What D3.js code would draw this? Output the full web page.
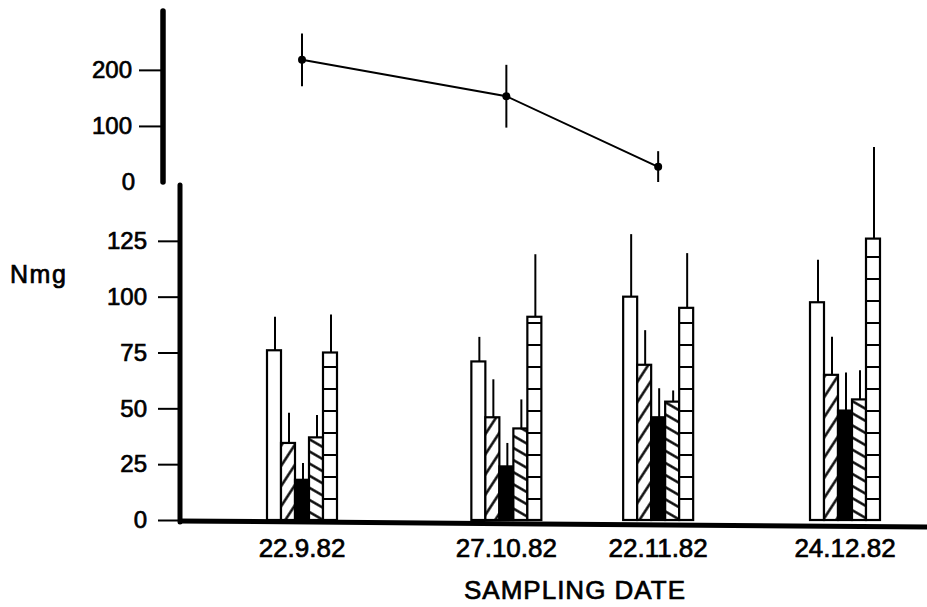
<!DOCTYPE html>
<html><head><meta charset="utf-8">
<script src="https://cdn.jsdelivr.net/npm/d3@7"></script>
<style>
body{margin:0;background:#fff}
svg{display:block}
text{font-family:"Liberation Sans",Arial,Helvetica,sans-serif;fill:#000}
</style>
</head><body>
<svg id="c" width="927" height="607"></svg>
<script>
// ---- data ----
const dateLabels = ["22.9.82","27.10.82","22.11.82","24.12.82"];
const dateValues = ["1982-09-22","1982-10-27","1982-11-22","1982-12-24"];
const seriesNames = ["open","hatchUp","solid","hatchDown","brick"];
const openMean = [76, 71, 100, 97.5];
const openSD = [15, 11, 28, 19];
const hatchUpMean = [34.5, 46, 69.5, 65];
const hatchUpSD = [13.5, 17, 15.5, 17];
const solidMean = [18, 24, 46, 49];
const solidSD = [7.5, 10.5, 13, 17];
const hatchDownMean = [37, 41, 53, 54];
const hatchDownSD = [10, 13, 5, 13];
const brickMean = [75, 91, 95, 126];
const brickSD = [17, 28, 24.5, 41];
const lineMean = [218, 153, 27];
const lineSD = [47, 56, 28];
const lowerTicks = [0, 25, 50, 75, 100, 125];
const upperTicks = [0, 100, 200];

const parse = d3.timeParse("%Y-%m-%d");
const dates = dateValues.map(parse);
const means = [openMean, hatchUpMean, solidMean, hatchDownMean, brickMean];
const sds = [openSD, hatchUpSD, solidSD, hatchDownSD, brickSD];

const svg = d3.select("#c");
const x = d3.scaleTime().domain([dates[0], dates[3]]).range([302, 845]);
const yLow = d3.scaleLinear().domain([0, 150]).range([520, 185]);
const yUp = d3.scaleLinear().domain([0, 305]).range([182, 11]);
const inner = d3.scaleBand().domain(seriesNames).range([-35, 35]).padding(0);

// ---- patterns ----
const defs = svg.append("defs");
function linePattern(id, angle, spacing){
  const p = defs.append("pattern").attr("id", id).attr("patternUnits","userSpaceOnUse")
    .attr("width", spacing).attr("height", spacing)
    .attr("patternTransform", `rotate(${angle})`);
  p.append("rect").attr("width", spacing).attr("height", spacing).attr("fill","#fff");
  p.append("line").attr("x1", spacing/2).attr("x2", spacing/2).attr("y1", -1).attr("y2", spacing+1)
    .attr("stroke","#000").attr("stroke-width", 2.4);
}
linePattern("hUp", 33, 11);
linePattern("hDown", -60, 10.5);
const brickH = 22;
const bp = defs.append("pattern").attr("id","brick").attr("patternUnits","userSpaceOnUse")
  .attr("x", 0).attr("y", yLow(0)).attr("width", 40).attr("height", brickH);
bp.append("rect").attr("width", 40).attr("height", brickH).attr("fill", "#fff");
bp.append("line").attr("x1",0).attr("x2",40).attr("y1",1).attr("y2",1).attr("stroke","#000").attr("stroke-width",2);
const fills = {open:"#fff", hatchUp:"url(#hUp)", solid:"#000", hatchDown:"url(#hDown)", brick:"url(#brick)"};

// ---- lower panel bars ----
const barData = [];
dates.forEach((d, i) => seriesNames.forEach((s, j) => barData.push({date:d, s, v:means[j][i], sd:sds[j][i]})));
const gBars = svg.append("g");
gBars.selectAll("line.err").data(barData).join("line").attr("class","err")
  .attr("x1", d => x(d.date) + inner(d.s) + inner.bandwidth()/2 + 1)
  .attr("x2", d => x(d.date) + inner(d.s) + inner.bandwidth()/2 + 1)
  .attr("y1", d => yLow(d.v)).attr("y2", d => yLow(d.v + d.sd))
  .attr("stroke","#000").attr("stroke-width",2);
gBars.selectAll("rect").data(barData).join("rect")
  .attr("x", d => x(d.date) + inner(d.s))
  .attr("y", d => yLow(d.v))
  .attr("width", inner.bandwidth())
  .attr("height", d => yLow(0) - yLow(d.v))
  .attr("fill", d => fills[d.s])
  .attr("stroke","#000").attr("stroke-width",2.2);

// ---- lower axis ----
const axLow = svg.append("g").attr("transform", `translate(180,0)`)
  .call(d3.axisLeft(yLow).tickValues(lowerTicks).tickSize(22).tickPadding(11).tickSizeOuter(0));
axLow.select(".domain").remove();
axLow.selectAll(".tick line").attr("stroke","#000").attr("stroke-width",2);
axLow.selectAll(".tick text").attr("font-size",24).attr("stroke","#000").attr("stroke-width",0.7);
svg.append("line").attr("x1",180).attr("x2",180).attr("y1",yLow(150)).attr("y2",yLow(0)+2)
  .attr("stroke","#000").attr("stroke-width",5).attr("stroke-linecap","round");
svg.append("line").attr("x1",178).attr("x2",927).attr("y1",yLow(0)+1).attr("y2",yLow(0)+7)
  .attr("stroke","#000").attr("stroke-width",5);

// x labels
svg.append("g").selectAll("text").data(dateLabels).join("text")
  .attr("x", (d,i) => x(dates[i])).attr("y", 557)
  .attr("text-anchor","middle").attr("font-size",26)
  .attr("stroke","#000").attr("stroke-width",0.7).text(d => d);
svg.append("text").attr("x", 575).attr("y", 599).attr("text-anchor","middle")
  .attr("font-size",26).attr("letter-spacing",1).attr("stroke","#000").attr("stroke-width",0.7).text("SAMPLING DATE");
svg.append("text").attr("x", 10).attr("y", 283).attr("font-size",25).attr("letter-spacing",1.5)
  .attr("stroke","#000").attr("stroke-width",0.7).text("Nmg");

// ---- upper panel ----
const axUp = svg.append("g").attr("transform", `translate(163,0)`)
  .call(d3.axisLeft(yUp).tickValues(upperTicks).tickSize(24).tickPadding(7).tickSizeOuter(0));
axUp.select(".domain").remove();
axUp.selectAll(".tick line").attr("stroke","#000").attr("stroke-width",2).attr("opacity", d => d === 0 ? 0 : 1);
axUp.selectAll(".tick text").attr("font-size",24).attr("stroke","#000").attr("stroke-width",0.7)
  .attr("dx", d => d === 0 ? 3 : 0);
svg.append("line").attr("x1",163).attr("x2",163).attr("y1",yUp(305)).attr("y2",yUp(0))
  .attr("stroke","#000").attr("stroke-width",5.5).attr("stroke-linecap","round");

const lineData = lineMean.map((v,i) => ({date:dates[i], v, sd:lineSD[i]}));
svg.append("path").datum(lineData)
  .attr("d", d3.line().x(d => x(d.date)).y(d => yUp(d.v)))
  .attr("fill","none").attr("stroke","#000").attr("stroke-width",2);
svg.append("g").selectAll("line").data(lineData).join("line")
  .attr("x1", d => x(d.date)).attr("x2", d => x(d.date))
  .attr("y1", d => yUp(d.v + d.sd)).attr("y2", d => yUp(Math.max(0, d.v - d.sd)))
  .attr("stroke","#000").attr("stroke-width",2);
svg.append("g").selectAll("circle").data(lineData).join("circle")
  .attr("cx", d => x(d.date)).attr("cy", d => yUp(d.v)).attr("r",4).attr("fill","#000");
</script>
</body></html>
